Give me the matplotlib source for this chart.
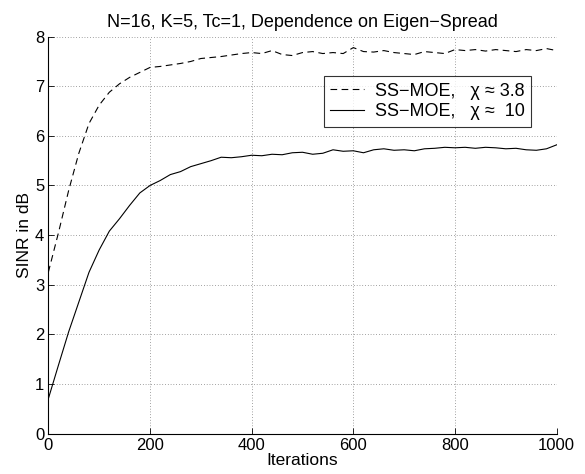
import numpy as np
import matplotlib
matplotlib.use("Agg")
import matplotlib.pyplot as plt

plt.rcParams['font.family'] = ['Liberation Sans', 'DejaVu Sans']

# iteration grid (every 20 iterations)
iters = list(range(0, 1001, 20))

# SS-MOE, chi ~ 3.8 (dashed)
sinr_chi38 = [3.25, 4.05, 4.90, 5.65, 6.25, 6.62, 6.88, 7.05, 7.18, 7.28,
              7.38, 7.40, 7.43, 7.46, 7.50, 7.56, 7.58, 7.60, 7.63, 7.66,
              7.68, 7.66, 7.72, 7.64, 7.62, 7.68, 7.70, 7.66, 7.68, 7.66,
              7.78, 7.70, 7.69, 7.72, 7.68, 7.66, 7.64, 7.70, 7.68, 7.66,
              7.74, 7.72, 7.74, 7.71, 7.74, 7.72, 7.70, 7.74, 7.72, 7.76,
              7.72]

# SS-MOE, chi ~ 10 (solid)
sinr_chi10 = [0.70, 1.38, 2.05, 2.65, 3.25, 3.70, 4.08, 4.33, 4.60, 4.85,
              5.00, 5.10, 5.22, 5.28, 5.38, 5.44, 5.50, 5.57, 5.56, 5.58,
              5.61, 5.60, 5.63, 5.62, 5.66, 5.67, 5.63, 5.65, 5.72, 5.69,
              5.70, 5.66, 5.72, 5.74, 5.71, 5.72, 5.70, 5.74, 5.75, 5.77,
              5.76, 5.77, 5.75, 5.77, 5.76, 5.74, 5.75, 5.72, 5.71, 5.74,
              5.82]

labels = ["SS\u2212MOE,   \u03c7 \u2248 3.8", "SS\u2212MOE,   \u03c7 \u2248  10"]

fig = plt.figure(figsize=(5.85, 4.74), dpi=100)
ax = fig.add_axes([0.0826, 0.0854, 0.869, 0.8372])

ax.plot(iters, sinr_chi38, color='black', lw=0.8, ls=(0, (6, 4)), label=labels[0])
ax.plot(iters, sinr_chi10, color='black', lw=0.8, ls='-', label=labels[1])

ax.set_xlim(0, 1000)
ax.set_ylim(0, 8)
ax.set_xticks(range(0, 1001, 200))
ax.set_yticks(range(0, 9))
ax.tick_params(direction='in', length=4, labelsize=12, pad=3, width=0.6)
ax.grid(True, ls=(0, (1, 3)), color='black', lw=0.5, alpha=0.7)
for s in ['top', 'right']:
    ax.spines[s].set_visible(False)
for s in ['left', 'bottom']:
    ax.spines[s].set_linewidth(0.8)

ax.set_title("N=16, K=5, Tc=1, Dependence on Eigen\u2212Spread", fontsize=13, pad=7)
ax.set_xlabel("Iterations", fontsize=12.5, labelpad=0)
ax.set_ylabel("SINR in dB", fontsize=12.5, labelpad=2)

leg = ax.legend(loc='upper right', bbox_to_anchor=(0.95, 0.90), fontsize=13,
                frameon=True, fancybox=False, edgecolor='black',
                handlelength=1.9, borderpad=0.35, labelspacing=0.2,
                handletextpad=0.6, borderaxespad=0)
leg.get_frame().set_linewidth(0.8)

fig.savefig("out.png", dpi=100)
